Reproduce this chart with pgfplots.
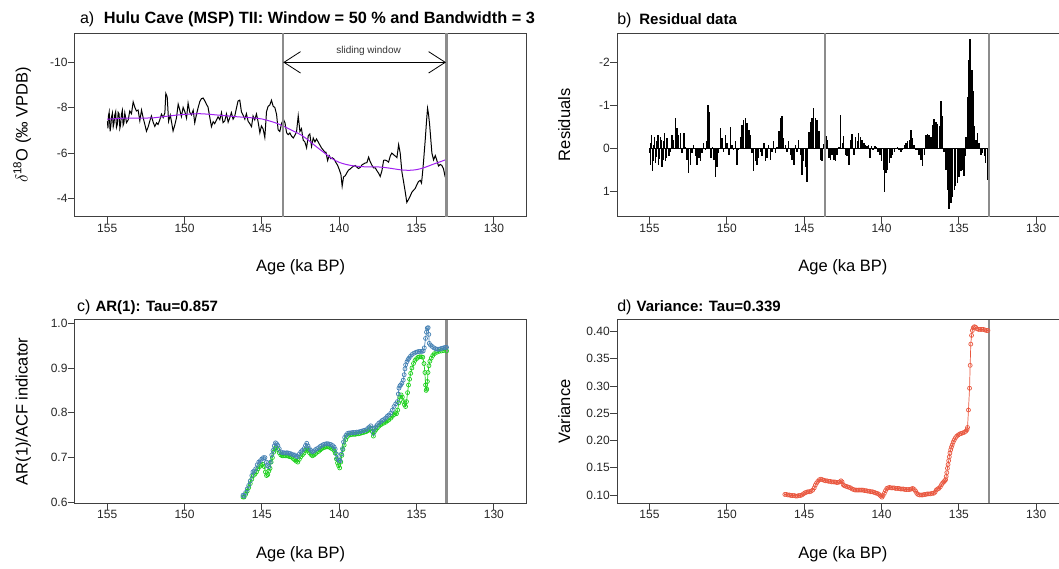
\documentclass[border=0pt]{standalone}
\usepackage{fontspec}
\setmainfont{Liberation Sans}
\usepackage{pgfplots}
\pgfplotsset{compat=1.18}
\usepackage{pgfplotstable}
\usetikzlibrary{arrows.meta}
\definecolor{boxc}{HTML}{404040}
\definecolor{vline}{HTML}{8C8C8C}
\definecolor{rpurple}{HTML}{A020F0}
\definecolor{steel}{HTML}{4682B4}
\definecolor{greenc}{HTML}{1ED01E}
\definecolor{tomatoc}{HTML}{E9573F}

\pgfplotstableread{
age res d18o
155.00 0.10 -7.40
154.98 0.12 -7.38
154.95 0.40 -7.10
154.92 -0.12 -7.63
154.87 -0.30 -7.81
154.81 0.54 -6.97
154.76 0.30 -7.22
154.72 -0.08 -7.60
154.66 -0.25 -7.77
154.61 0.35 -7.17
154.56 0.20 -7.32
154.51 -0.16 -7.68
154.45 -0.30 -7.83
154.40 0.39 -7.14
154.34 0.25 -7.28
154.29 -0.27 -7.80
154.23 -0.20 -7.73
154.18 0.43 -7.10
154.13 0.28 -7.26
154.08 -0.16 -7.70
154.02 -0.35 -7.89
153.97 0.31 -7.23
153.92 0.22 -7.32
153.86 -0.23 -7.77
153.75 0.19 -7.35
153.64 0.08 -7.47
153.54 -0.31 -7.86
153.43 -0.19 -7.74
153.32 -0.71 -8.26
153.21 -0.47 -8.02
153.11 -0.31 -7.86
153.00 -0.35 -7.90
152.89 0.12 -7.43
152.78 -0.35 -7.90
152.68 -0.03 -7.58
152.57 0.27 -7.28
152.46 0.58 -6.97
152.35 0.39 -7.16
152.24 0.12 -7.43
152.14 -0.08 -7.64
152.03 0.19 -7.37
151.92 0.39 -7.18
151.81 0.23 -7.34
151.71 0.31 -7.27
151.60 0.12 -7.47
151.49 -0.12 -7.72
151.38 0.04 -7.57
151.27 -0.16 -7.78
151.21 -1.01 -8.63
151.12 -0.85 -8.48
151.03 0.23 -7.41
150.92 -0.03 -7.68
150.84 0.27 -7.38
150.74 0.68 -6.98
150.63 0.43 -7.24
150.52 0.12 -7.56
150.41 -0.47 -8.16
150.31 -0.23 -7.92
150.20 0.08 -7.62
150.09 -0.31 -8.02
149.98 -0.12 -7.83
149.87 0.16 -7.55
149.77 -0.49 -8.21
149.66 -0.08 -7.80
149.55 0.04 -7.69
149.44 -0.16 -7.89
149.34 0.39 -7.34
149.23 0.04 -7.70
149.12 -0.27 -8.01
149.01 -0.54 -8.28
148.91 -0.66 -8.40
148.80 -0.70 -8.43
148.69 -0.58 -8.31
148.58 -0.43 -8.15
148.48 -0.31 -8.03
148.37 0.12 -7.59
148.26 0.54 -7.17
148.15 0.31 -7.39
148.05 0.39 -7.30
147.94 0.23 -7.46
147.83 0.08 -7.60
147.72 0.19 -7.48
147.61 -0.12 -7.79
147.51 0.31 -7.35
147.40 0.23 -7.42
147.29 -0.08 -7.73
147.18 0.27 -7.37
147.08 0.08 -7.55
146.97 -0.16 -7.79
146.86 0.12 -7.50
146.75 -0.02 -7.64
146.64 -0.39 -8.00
146.54 -0.70 -8.30
146.43 -0.74 -8.34
146.32 -0.23 -7.82
146.21 -0.08 -7.67
146.10 0.08 -7.50
146.00 -0.16 -7.74
145.89 0.16 -7.41
145.78 0.27 -7.30
145.67 0.39 -7.17
145.57 -0.08 -7.64
145.46 0.08 -7.47
145.35 -0.19 -7.73
145.24 0.16 -7.37
145.13 0.62 -6.90
145.03 0.31 -7.20
144.92 0.43 -7.07
144.81 0.78 -6.70
144.70 -0.37 -7.83
144.60 -0.62 -8.06
144.49 -0.70 -8.12
144.38 -0.93 -8.33
144.27 -0.70 -8.07
144.16 -0.66 -8.01
144.05 -0.39 -7.71
143.95 0.27 -7.03
143.84 0.31 -6.96
143.72 -0.10 -7.33
143.60 -0.29 -7.48
143.51 -0.19 -7.35
143.40 0.23 -6.90
143.30 0.27 -6.82
143.19 0.16 -6.89
143.08 0.27 -6.75
142.97 0.31 -6.67
142.87 0.16 -6.79
142.76 -0.03 -6.94
142.65 -0.78 -7.65
142.54 -0.12 -6.96
142.44 -0.29 -7.08
142.33 0.16 -6.58
142.22 0.19 -6.50
142.11 0.39 -6.24
142.00 -0.19 -6.77
141.90 -0.33 -6.85
141.79 0.16 -6.30
141.68 -0.27 -6.67
141.57 -0.16 -6.50
141.47 -0.35 -6.63
141.36 -0.27 -6.50
141.25 -0.19 -6.36
141.14 -0.12 -6.23
141.03 -0.08 -6.14
140.93 -0.04 -6.04
140.86 -0.08 -6.05
140.75 0.23 -5.68
140.65 -0.04 -5.90
140.54 0.04 -5.76
140.43 -0.05 -5.80
140.32 -0.02 -5.73
140.22 0.08 -5.60
140.11 0.16 -5.48
140.00 0.31 -5.29
139.89 0.51 -5.07
139.81 1.01 -4.55
139.72 0.58 -4.96
139.61 0.51 -5.01
139.50 0.35 -5.15
139.40 0.23 -5.26
139.29 0.16 -5.31
139.18 0.08 -5.38
139.07 0.02 -5.43
138.97 -0.02 -5.46
138.86 0.04 -5.39
138.75 0.10 -5.33
138.64 0.04 -5.38
138.53 -0.08 -5.49
138.43 -0.12 -5.53
138.32 -0.16 -5.57
138.21 -0.19 -5.59
138.10 -0.43 -5.83
138.00 -0.23 -5.63
137.89 -0.08 -5.48
137.78 0.04 -5.36
137.67 0.04 -5.36
137.57 0.16 -5.24
137.46 0.27 -5.13
137.35 0.41 -4.98
137.24 0.16 -5.23
137.13 -0.31 -5.69
137.03 -0.33 -5.70
136.92 -0.31 -5.67
136.81 -0.26 -5.61
136.70 -0.54 -5.88
136.60 -0.68 -6.01
136.49 -0.62 -5.94
136.38 -0.57 -5.88
136.27 -0.51 -5.81
136.16 -1.09 -6.38
136.06 -0.74 -6.02
135.95 0.08 -5.19
135.84 0.51 -4.75
135.73 0.97 -4.29
135.63 1.41 -3.84
135.52 1.28 -3.97
135.41 1.13 -4.12
135.30 0.97 -4.29
135.20 0.89 -4.37
135.09 0.82 -4.45
134.98 0.66 -4.62
134.87 0.54 -4.76
134.76 0.51 -4.81
134.68 0.64 -4.69
134.61 0.19 -5.16
134.55 -0.27 -5.63
134.44 -1.20 -6.59
134.35 -2.06 -7.47
134.29 -2.53 -7.98
134.23 -2.29 -7.73
134.16 -1.83 -7.29
134.10 -1.32 -6.79
134.01 -0.51 -6.01
133.90 -0.19 -5.71
133.79 -0.35 -5.90
133.69 -0.12 -5.69
133.58 0.16 -5.44
133.47 0.12 -5.51
133.36 0.19 -5.46
133.26 0.35 -5.32
133.15 0.74 -4.96
133.10 0.78 -4.93
}\resid

\pgfplotstableread{
age smooth
155.00 -7.50
154.50 -7.52
154.00 -7.54
153.50 -7.55
153.00 -7.55
152.50 -7.55
152.00 -7.56
151.50 -7.60
151.00 -7.64
150.50 -7.68
150.00 -7.71
149.50 -7.73
149.00 -7.74
148.50 -7.72
148.00 -7.69
147.50 -7.66
147.00 -7.63
146.50 -7.60
146.00 -7.58
145.50 -7.55
145.00 -7.51
144.50 -7.42
144.00 -7.31
143.50 -7.16
143.00 -6.99
142.50 -6.82
142.00 -6.58
141.50 -6.30
141.00 -6.04
140.50 -5.78
140.00 -5.60
139.50 -5.50
139.00 -5.44
138.50 -5.41
138.00 -5.40
137.50 -5.40
137.00 -5.37
136.50 -5.32
136.00 -5.27
135.50 -5.25
135.00 -5.28
134.50 -5.37
134.00 -5.50
133.50 -5.62
133.06 -5.73
}\smoothtab

\pgfplotstableread{
age ar
146.22 0.616
146.15 0.614
146.05 0.622
145.95 0.630
145.85 0.638
145.75 0.648
145.65 0.660
145.58 0.668
145.50 0.670
145.40 0.675
145.30 0.684
145.20 0.690
145.10 0.693
145.00 0.697
144.90 0.700
144.80 0.700
144.72 0.690
144.65 0.682
144.55 0.680
144.45 0.690
144.36 0.706
144.28 0.716
144.20 0.726
144.12 0.733
144.05 0.731
143.97 0.727
143.88 0.720
143.78 0.713
143.68 0.711
143.58 0.711
143.48 0.710
143.38 0.711
143.28 0.710
143.18 0.709
143.08 0.708
142.98 0.706
142.88 0.706
142.78 0.703
142.68 0.702
142.58 0.708
142.48 0.713
142.38 0.716
142.28 0.720
142.18 0.727
142.10 0.732
142.02 0.726
141.93 0.720
141.83 0.716
141.73 0.713
141.63 0.715
141.53 0.718
141.43 0.720
141.33 0.722
141.23 0.725
141.13 0.727
141.03 0.729
140.93 0.730
140.83 0.731
140.73 0.731
140.63 0.730
140.53 0.729
140.43 0.727
140.33 0.724
140.26 0.719
140.18 0.708
140.11 0.698
140.02 0.694
139.94 0.693
139.86 0.708
139.79 0.720
139.72 0.735
139.65 0.745
139.56 0.750
139.46 0.754
139.36 0.755
139.26 0.755
139.16 0.756
139.06 0.756
138.96 0.756
138.86 0.757
138.76 0.757
138.66 0.758
138.56 0.759
138.46 0.760
138.36 0.761
138.26 0.762
138.16 0.765
138.06 0.768
137.96 0.771
137.86 0.765
137.79 0.754
137.72 0.765
137.64 0.769
137.54 0.773
137.44 0.777
137.32 0.780
137.22 0.783
137.12 0.785
137.00 0.788
136.90 0.792
136.80 0.795
136.67 0.799
136.57 0.806
136.46 0.814
136.35 0.820
136.24 0.825
136.18 0.842
136.14 0.855
136.08 0.860
136.03 0.862
135.95 0.866
135.86 0.873
135.80 0.885
135.75 0.898
135.71 0.907
135.62 0.914
135.55 0.919
135.49 0.922
135.40 0.926
135.30 0.930
135.17 0.933
135.05 0.935
134.95 0.936
134.85 0.937
134.75 0.937
134.65 0.937
134.57 0.938
134.50 0.945
134.42 0.966
134.36 0.980
134.31 0.989
134.25 0.990
134.21 0.975
134.18 0.955
134.10 0.951
133.99 0.948
133.88 0.945
133.77 0.943
133.67 0.942
133.56 0.942
133.45 0.943
133.35 0.944
133.25 0.945
133.15 0.946
133.06 0.946
}\arblue

\pgfplotstableread{
age ar
146.22 0.612
146.15 0.612
146.05 0.618
145.95 0.625
145.85 0.633
145.75 0.642
145.65 0.652
145.55 0.660
145.45 0.663
145.35 0.668
145.25 0.675
145.15 0.680
145.05 0.683
144.95 0.685
144.85 0.680
144.77 0.668
144.70 0.660
144.62 0.662
144.55 0.670
144.47 0.676
144.40 0.690
144.32 0.700
144.24 0.712
144.16 0.720
144.08 0.722
143.98 0.718
143.88 0.711
143.78 0.706
143.68 0.704
143.58 0.704
143.48 0.704
143.38 0.704
143.28 0.703
143.18 0.702
143.08 0.701
142.98 0.698
142.88 0.695
142.78 0.692
142.68 0.690
142.58 0.696
142.48 0.702
142.38 0.706
142.28 0.710
142.18 0.716
142.10 0.720
142.02 0.716
141.93 0.711
141.83 0.707
141.73 0.704
141.63 0.706
141.53 0.709
141.43 0.712
141.33 0.714
141.23 0.717
141.13 0.720
141.03 0.722
140.93 0.723
140.83 0.724
140.73 0.724
140.63 0.723
140.53 0.721
140.43 0.719
140.33 0.716
140.26 0.710
140.18 0.697
140.11 0.688
140.04 0.682
139.97 0.677
139.90 0.690
139.83 0.705
139.76 0.718
139.68 0.728
139.58 0.740
139.48 0.747
139.38 0.750
139.26 0.751
139.16 0.752
139.06 0.752
138.96 0.752
138.86 0.753
138.76 0.753
138.66 0.754
138.56 0.755
138.46 0.756
138.36 0.757
138.26 0.758
138.16 0.760
138.06 0.762
137.96 0.765
137.86 0.758
137.79 0.748
137.72 0.758
137.64 0.762
137.54 0.766
137.44 0.770
137.32 0.773
137.22 0.776
137.12 0.777
137.00 0.779
136.90 0.782
136.80 0.784
136.67 0.788
136.57 0.792
136.46 0.796
136.38 0.800
136.30 0.798
136.22 0.806
136.15 0.822
136.08 0.835
136.00 0.840
135.92 0.835
135.85 0.825
135.78 0.818
135.71 0.814
135.65 0.825
135.58 0.845
135.52 0.862
135.45 0.875
135.38 0.888
135.30 0.900
135.20 0.910
135.10 0.917
135.00 0.921
134.90 0.924
134.80 0.925
134.70 0.925
134.60 0.924
134.52 0.910
134.46 0.890
134.42 0.862
134.38 0.850
134.34 0.853
134.30 0.870
134.26 0.890
134.20 0.905
134.14 0.915
134.05 0.922
133.95 0.928
133.85 0.932
133.70 0.935
133.55 0.937
133.40 0.938
133.25 0.939
133.06 0.938
}\argreen

\pgfplotstableread{
age var
146.25 0.101
146.15 0.101
146.05 0.100
145.95 0.100
145.85 0.099
145.75 0.099
145.65 0.099
145.55 0.098
145.45 0.098
145.35 0.099
145.25 0.099
145.15 0.100
145.05 0.102
144.95 0.104
144.85 0.105
144.75 0.106
144.65 0.106
144.55 0.107
144.45 0.109
144.35 0.113
144.28 0.118
144.20 0.122
144.12 0.125
144.02 0.128
143.92 0.129
143.82 0.128
143.72 0.127
143.62 0.126
143.52 0.126
143.42 0.125
143.32 0.125
143.22 0.124
143.12 0.124
143.02 0.124
142.92 0.123
142.82 0.123
142.72 0.124
142.62 0.126
142.55 0.124
142.48 0.119
142.40 0.117
142.30 0.116
142.20 0.115
142.10 0.114
142.00 0.113
141.90 0.111
141.80 0.110
141.70 0.109
141.60 0.109
141.50 0.109
141.40 0.109
141.30 0.109
141.20 0.109
141.10 0.108
141.00 0.108
140.90 0.107
140.80 0.107
140.70 0.106
140.60 0.106
140.50 0.105
140.40 0.104
140.30 0.103
140.20 0.102
140.12 0.100
140.05 0.098
139.97 0.096
139.90 0.099
139.82 0.103
139.74 0.108
139.66 0.112
139.58 0.113
139.48 0.114
139.38 0.113
139.28 0.113
139.18 0.113
139.08 0.112
138.98 0.112
138.88 0.112
138.78 0.111
138.68 0.111
138.58 0.111
138.48 0.110
138.38 0.110
138.28 0.110
138.18 0.110
138.08 0.111
137.98 0.112
137.88 0.110
137.80 0.107
137.72 0.103
137.64 0.101
137.54 0.100
137.44 0.100
137.34 0.100
137.24 0.101
137.14 0.101
137.04 0.102
136.94 0.102
136.84 0.102
136.74 0.103
136.64 0.103
136.54 0.105
136.46 0.109
136.38 0.111
136.30 0.112
136.20 0.115
136.12 0.119
136.05 0.122
135.98 0.124
135.92 0.126
135.86 0.128
135.82 0.134
135.78 0.141
135.74 0.149
135.70 0.156
135.66 0.163
135.62 0.170
135.58 0.177
135.53 0.183
135.48 0.188
135.43 0.192
135.37 0.197
135.30 0.201
135.22 0.205
135.14 0.208
135.05 0.210
134.95 0.212
134.85 0.213
134.75 0.214
134.65 0.215
134.55 0.217
134.47 0.220
134.44 0.224
134.38 0.256
134.31 0.296
134.27 0.338
134.23 0.377
134.18 0.393
134.13 0.402
134.07 0.407
134.00 0.409
133.92 0.408
133.82 0.405
133.72 0.404
133.62 0.404
133.52 0.404
133.42 0.404
133.32 0.403
133.22 0.402
133.12 0.402
}\vartab

\pgfplotsset{
  myax/.style={
    scale only axis, width=451.7pt, height=183.7pt,
    x dir=reverse, xmin=127.9, xmax=157.1,
    xtick={130,135,140,145,150,155},
    xticklabels={130,135,140,145,150,155},
    axis line style={boxc, line width=1pt},
    tick style={boxc, line width=0.9pt},
    tick align=outside, major tick length=7pt,
    xtick pos=left, ytick pos=left,
    tick label style={font=\fontsize{12}{14}\selectfont, text=black!85},
    xticklabel style={anchor=north, inner sep=0pt},
    yticklabel style={anchor=east, inner sep=0pt},
    xlabel style={at={(axis description cs:0.5,-0.2994)}, anchor=base, font=\fontsize{16.5}{19}\selectfont},
    ylabel style={at={(axis description cs:-0.1040,0.5)}, anchor=base, font=\fontsize{16.5}{19}\selectfont},
    xlabel={Age (ka BP)},
    clip=true,
  }
}

\begin{document}
\begin{tikzpicture}[x=1pt,y=1pt]
\path[use as bounding box] (0,0) rectangle (1059,-568);

% ---------- a ----------
\begin{axis}[myax, at={(74.7pt,-216.7pt)}, anchor=south west,
  y dir=reverse, ymin=-11.29, ymax=-3.21,
  ytick={-10,-8,-6,-4}, yticklabels={-10,-8,-6,-4},
  ylabel={$\delta$\textsuperscript{18}O (‰ VPDB)}]
\addplot[black, line width=1pt] table[x=age,y=d18o] {\resid};
\addplot[rpurple, line width=1pt, smooth] table[x=age,y=smooth] {\smoothtab};
\draw[vline, line width=2.2pt] (axis cs:143.66,-11.29) -- (axis cs:143.66,-3.21);
\draw[vline, line width=2.2pt] (axis cs:133.06,-11.29) -- (axis cs:133.06,-3.21);
\draw[black, line width=0.8pt, {Straight Barb[length=16.6pt,width=21.4pt]}-{Straight Barb[length=16.6pt,width=21.4pt]}] (axis cs:143.62,-10) -- (axis cs:133.10,-10);
\node[anchor=base, font=\fontsize{10}{12}\selectfont, text=black!80] at (axis cs:138.1,-10.40) {sliding window};
\end{axis}
\node[anchor=base west, font=\fontsize{16}{18}\selectfont] at (76.5,-23.5) {a)};
\node[anchor=base west, font=\fontsize{16.3}{18}\selectfont\bfseries] at (100.4,-23.5) {Hulu Cave (MSP) TII: Window = 50 \% and Bandwidth = 3};

% ---------- b ----------
\begin{axis}[myax, at={(617pt,-216.7pt)}, anchor=south west,
  y dir=reverse, ymin=-2.68, ymax=1.595,
  ytick={-2,-1,0,1}, yticklabels={-2,-1,0,1},
  ylabel={Residuals}]
\addplot[black, line width=1.4pt, ycomb] table[x=age,y=res] {\resid};
\draw[black, line width=0.9pt] (axis cs:155,0) -- (axis cs:133.06,0);
\draw[vline, line width=2.2pt] (axis cs:143.66,-2.68) -- (axis cs:143.66,1.595);
\draw[vline, line width=2.2pt] (axis cs:133.06,-2.68) -- (axis cs:133.06,1.595);
\end{axis}
\node[anchor=base west, font=\fontsize{16}{18}\selectfont] at (613.8,-24) {b)};
\node[anchor=base west, font=\fontsize{15}{18}\selectfont\bfseries] at (635.8,-24) {Residual data};

% ---------- c ----------
\begin{axis}[myax, at={(74.7pt,-503.3pt)}, anchor=south west,
  ymin=0.598, ymax=1.008,
  ytick={0.6,0.7,0.8,0.9,1.0}, yticklabels={0.6,0.7,0.8,0.9,1.0},
  ylabel={AR(1)/ACF indicator}]
\addplot[greenc, line width=0.7pt, mark=o, mark size=2pt, mark options={line width=0.7pt}] table[x=age,y=ar] {\argreen};
\addplot[steel, line width=0.7pt, mark=o, mark size=2pt, mark options={line width=0.7pt}] table[x=age,y=ar] {\arblue};
\draw[vline, line width=2.2pt] (axis cs:133.06,0.598) -- (axis cs:133.06,1.008);
\end{axis}
\node[anchor=base west, font=\fontsize{16}{18}\selectfont] at (73.7,-311.7) {c)};
\node[anchor=base west, font=\fontsize{15}{18}\selectfont\bfseries] at (92,-311.7) {AR(1): Tau=0.857};

% ---------- d ----------
\begin{axis}[myax, at={(617pt,-503.3pt)}, anchor=south west,
  ymin=0.0847, ymax=0.422,
  ytick={0.10,0.15,0.20,0.25,0.30,0.35,0.40}, yticklabels={0.10,0.15,0.20,0.25,0.30,0.35,0.40},
  ylabel={Variance}]
\addplot[tomatoc, line width=0.7pt, mark=o, mark size=2pt, mark options={line width=0.7pt}] table[x=age,y=var] {\vartab};
\draw[vline, line width=2.2pt] (axis cs:133.06,0.0847) -- (axis cs:133.06,0.422);
\end{axis}
\node[anchor=base west, font=\fontsize{16}{18}\selectfont] at (613.8,-311.7) {d)};
\node[anchor=base west, font=\fontsize{15}{18}\selectfont\bfseries] at (633.1,-311.7) {Variance: Tau=0.339};
\end{tikzpicture}
\end{document}
